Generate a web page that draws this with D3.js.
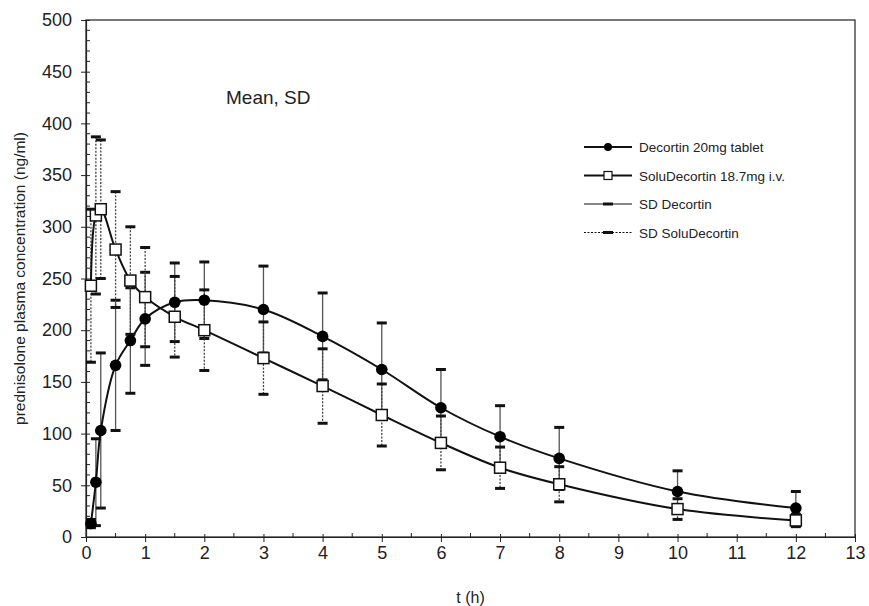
<!DOCTYPE html>
<html>
<head>
<meta charset="utf-8">
<script src="https://cdn.jsdelivr.net/npm/d3@7"></script>
<style>
  body { margin: 0; background: #fff; }
  text { font-family: "Liberation Sans", Arial, sans-serif; fill: #222; }
</style>
</head>
<body>
<div class="chart"></div>
<script>
// prednisolone plasma concentration, mean and SD
var times = [0.083, 0.167, 0.25, 0.5, 0.75, 1, 1.5, 2, 3, 4, 5, 6, 7, 8, 10, 12];
var decortinMean = [13, 53, 103, 166, 190, 211, 227, 229, 220, 194, 162, 125, 97, 76, 44, 28];
var decortinSD = [4, 42, 75, 63, 51, 45, 38, 37, 42, 42, 45, 37, 30, 30, 20, 16];
var soluMean = [243, 311, 317, 278, 248, 232, 213, 200, 173, 146, 118, 91, 67, 51, 27, 16];
var soluSD = [74, 76, 67, 56, 52, 48, 39, 39, 35, 36, 30, 26, 20, 17, 10, 6];
var xTicks = d3.range(0, 14);
var yTicks = d3.range(0, 501, 50);
var legendLabels = ["Decortin 20mg tablet", "SoluDecortin  18.7mg i.v.", "SD Decortin", "SD SoluDecortin"];

var svgWidth = 869;
var svgHeight = 606;
var margin = { top: 20, right: 14, bottom: 69, left: 86 };
var width = svgWidth - margin.left - margin.right;
var height = svgHeight - margin.top - margin.bottom;

var svg = d3.select(".chart")
  .append("svg")
  .attr("width", svgWidth)
  .attr("height", svgHeight);

var chartGroup = svg.append("g")
  .attr("transform", `translate(${margin.left}, ${margin.top})`);

var x = d3.scaleLinear().domain([0, 13]).range([0, width]);
var y = d3.scaleLinear().domain([0, 500]).range([height, 0]);

var decortin = times.map((t, i) => ({ t: t, m: decortinMean[i], sd: decortinSD[i] }));
var solu = times.map((t, i) => ({ t: t, m: soluMean[i], sd: soluSD[i] }));

// frame
chartGroup.append("rect")
  .attr("width", width)
  .attr("height", height)
  .attr("fill", "none")
  .attr("stroke", "#222")
  .attr("stroke-width", 1.2);

// axes
var xAxis = chartGroup.append("g")
  .attr("transform", `translate(0, ${height})`)
  .call(d3.axisBottom(x).tickValues(xTicks).tickSize(5).tickSizeOuter(0).tickPadding(4));
xAxis.selectAll(".tick line").attr("y1", -3);
xAxis.append("g").selectAll("line")
  .data(d3.range(0.5, 13, 1))
  .enter()
  .append("line")
  .attr("x1", d => x(d)).attr("x2", d => x(d))
  .attr("y1", 0).attr("y2", -4)
  .attr("stroke", "#222");

var yAxis = chartGroup.append("g")
  .call(d3.axisLeft(y).tickValues(yTicks).tickSize(5).tickSizeOuter(0).tickPadding(9));
yAxis.selectAll(".tick line").attr("x1", 4);
yAxis.append("g").selectAll("line")
  .data(d3.range(10, 500, 10).filter(d => d % 50 !== 0))
  .enter()
  .append("line")
  .attr("x1", 0).attr("x2", 4)
  .attr("y1", d => y(d)).attr("y2", d => y(d))
  .attr("stroke", "#222");

chartGroup.selectAll(".domain").attr("stroke", "#222").attr("stroke-width", 1.2);
chartGroup.selectAll(".tick line").attr("stroke", "#222");
chartGroup.selectAll(".tick text").style("font-size", "18px").attr("fill", "#222");

// error bars
function errorBars(data, cls, dash, color) {
  var g = chartGroup.append("g").attr("class", cls);
  g.selectAll("line.bar")
    .data(data)
    .enter()
    .append("line")
    .attr("class", "bar")
    .attr("x1", d => x(d.t)).attr("x2", d => x(d.t))
    .attr("y1", d => y(d.m + d.sd)).attr("y2", d => y(Math.max(0, d.m - d.sd)))
    .attr("stroke", color)
    .attr("stroke-width", 1.3)
    .attr("stroke-dasharray", dash);
  var caps = [];
  data.forEach(d => {
    caps.push({ t: d.t, v: d.m + d.sd });
    caps.push({ t: d.t, v: Math.max(0, d.m - d.sd) });
  });
  g.selectAll("line.cap")
    .data(caps)
    .enter()
    .append("line")
    .attr("class", "cap")
    .attr("x1", d => x(d.t) - 5).attr("x2", d => x(d.t) + 5)
    .attr("y1", d => y(d.v)).attr("y2", d => y(d.v))
    .attr("stroke", "#111")
    .attr("stroke-width", 3);
}
errorBars(decortin, "sd-decortin", null, "#555");
errorBars(solu, "sd-solu", "2,1.5", "#444");

// mean curves
var line = d3.line()
  .x(d => x(d.t))
  .y(d => y(d.m))
  .curve(d3.curveCatmullRom.alpha(0.5));

chartGroup.append("path").datum(decortin)
  .attr("d", line).attr("fill", "none").attr("stroke", "#111").attr("stroke-width", 2);
chartGroup.append("path").datum(solu)
  .attr("d", line).attr("fill", "none").attr("stroke", "#111").attr("stroke-width", 2);

chartGroup.selectAll("circle.dec")
  .data(decortin)
  .enter()
  .append("circle")
  .attr("class", "dec")
  .attr("cx", d => x(d.t))
  .attr("cy", d => y(d.m))
  .attr("r", 5.8)
  .attr("fill", "#000");

chartGroup.selectAll("rect.solu")
  .data(solu)
  .enter()
  .append("rect")
  .attr("class", "solu")
  .attr("x", d => x(d.t) - 5.5)
  .attr("y", d => y(d.m) - 5.5)
  .attr("width", 11)
  .attr("height", 11)
  .attr("fill", "#fff")
  .attr("stroke", "#111")
  .attr("stroke-width", 1.5);

// annotation
chartGroup.append("text")
  .attr("x", 140)
  .attr("y", 84)
  .style("font-size", "19px")
  .text("Mean, SD");

// legend
var legend = chartGroup.append("g")
  .attr("transform", "translate(498, 127)");
var rowGap = 28.5;
legendLabels.forEach(function (label, i) {
  var row = legend.append("g").attr("transform", `translate(0, ${i * rowGap})`);
  row.append("line")
    .attr("x1", 0).attr("x2", 48).attr("y1", 0).attr("y2", 0)
    .attr("stroke", "#111")
    .attr("stroke-width", i < 2 ? 2 : 1)
    .attr("stroke-dasharray", i === 3 ? "2,1.5" : null);
  if (i === 0) {
    row.append("circle").attr("cx", 24).attr("cy", 0).attr("r", 4).attr("fill", "#000");
  } else if (i === 1) {
    row.append("rect").attr("x", 20).attr("y", -4).attr("width", 8).attr("height", 8)
      .attr("fill", "#fff").attr("stroke", "#111").attr("stroke-width", 1.2);
  } else {
    row.append("line").attr("x1", 19).attr("x2", 29).attr("y1", 0).attr("y2", 0)
      .attr("stroke", "#111").attr("stroke-width", 3);
  }
  row.append("text")
    .attr("x", 55)
    .attr("y", 5)
    .style("font-size", "13.5px")
    .text(label);
});

// axis titles
chartGroup.append("text")
  .attr("transform", "rotate(-90)")
  .attr("x", -height / 2)
  .attr("y", -61)
  .attr("text-anchor", "middle")
  .style("font-size", "15.5px")
  .text("prednisolone plasma concentration  (ng/ml)");

chartGroup.append("text")
  .attr("x", x(6.5))
  .attr("y", height + 66)
  .attr("text-anchor", "middle")
  .style("font-size", "16px")
  .text("t (h)");
</script>
</body>
</html>
